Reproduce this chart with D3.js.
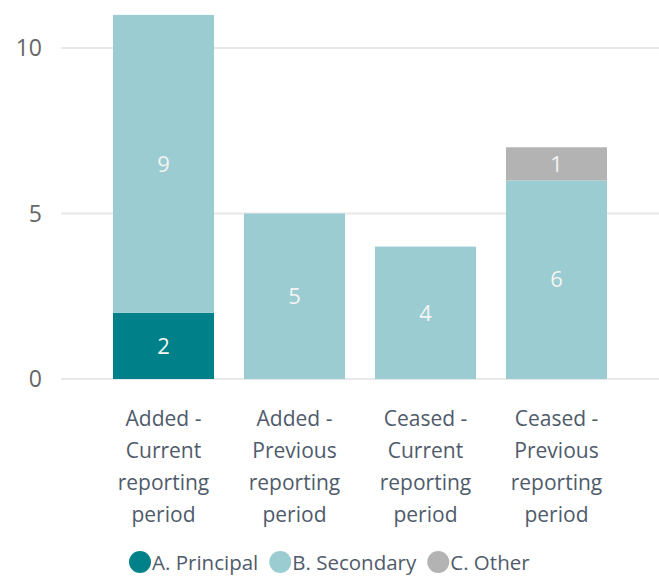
<!doctype html>
<html>
<head>
<title>Added and ceased by type</title>
<style type="text/css">
body { margin: 0; background: #fff; }
svg { display: block; font-family: "Open Sans", "Noto Sans", sans-serif; }
</style>
<script src="https://cdnjs.cloudflare.com/ajax/libs/d3/7.8.5/d3.min.js"></script>
</head>
<body>
<script type="text/javascript">
var width = 659;
var height = 576;

// data
var categories = ["Added - Current reporting period", "Added - Previous reporting period",
                  "Ceased - Current reporting period", "Ceased - Previous reporting period"];
var seriesNames = ["A. Principal", "B. Secondary", "C. Other"];
var principal = [2, 0, 0, 0];
var secondary = [9, 5, 4, 6];
var other = [0, 0, 0, 1];
var yTicks = [0, 5, 10];
var colors = ["#00818a", "#9bccd1", "#b3b3b3"];

var svg = d3.select("body").append("svg")
    .attr("width", width)
    .attr("height", height);

var x = d3.scaleBand()
    .domain(categories)
    .range([61, 659])
    .paddingInner(0.229)
    .paddingOuter(0.397);

var y = d3.scaleLinear()
    .domain([0, 11])
    .range([379, 379 - 33.1 * 11]);

// table for the stack layout
var rows = categories.map(function(c, i) {
    return { cat: c, "A. Principal": principal[i], "B. Secondary": secondary[i], "C. Other": other[i] };
});
var stacked = d3.stack().keys(seriesNames)(rows);

// gridlines
svg.append("g")
    .selectAll("line")
    .data(yTicks)
    .join("line")
    .attr("x1", 61)
    .attr("x2", width)
    .attr("y1", function(d) { return y(d); })
    .attr("y2", function(d) { return y(d); })
    .style("stroke", "#e8e8e8")
    .style("stroke-width", 2);

// y tick labels
svg.append("g")
    .selectAll("text")
    .data(yTicks)
    .join("text")
    .attr("x", 42)
    .attr("y", function(d) { return y(d); })
    .attr("dy", "0.35em")
    .attr("text-anchor", "end")
    .style("font-size", "23px")
    .style("fill", "#666666")
    .text(function(d) { return d; });

// bars
var layers = svg.append("g")
    .selectAll("g")
    .data(stacked)
    .join("g")
    .style("fill", function(d, i) { return colors[i]; });

layers.selectAll("rect")
    .data(function(d) { return d.filter(function(s) { return s[1] > s[0]; }); })
    .join("rect")
    .attr("x", function(d) { return x(d.data.cat); })
    .attr("width", x.bandwidth())
    .attr("y", function(d) { return y(d[1]); })
    .attr("height", function(d) { return y(d[0]) - y(d[1]); });

layers.selectAll("text")
    .data(function(d) { return d.filter(function(s) { return s[1] > s[0]; }); })
    .join("text")
    .attr("x", function(d) { return x(d.data.cat) + x.bandwidth() / 2; })
    .attr("y", function(d) { return (y(d[0]) + y(d[1])) / 2; })
    .attr("dy", "0.35em")
    .attr("text-anchor", "middle")
    .style("font-size", "22px")
    .style("fill", "#f4f4f4")
    .text(function(d) { return d[1] - d[0]; });

// category labels, wrapped to the band width
var xLabels = svg.append("g")
    .selectAll("text")
    .data(categories)
    .join("text")
    .attr("x", function(d) { return x(d) + x.bandwidth() / 2; })
    .attr("y", 426)
    .attr("text-anchor", "middle")
    .style("font-size", "21px")
    .style("fill", "#4f5b6b");

xLabels.each(function(d) {
    var t = d3.select(this);
    var words = d.split(" ");
    var lines = [];
    var cur = [];
    var probe = t.append("tspan");
    words.forEach(function(w) {
        probe.text(cur.concat([w]).join(" "));
        if (cur.length && probe.node().getComputedTextLength() > x.bandwidth()) {
            lines.push(cur.join(" "));
            cur = [w];
        } else {
            cur.push(w);
        }
    });
    lines.push(cur.join(" "));
    probe.remove();
    lines.forEach(function(l, i) {
        t.append("tspan")
            .attr("x", x(d) + x.bandwidth() / 2)
            .attr("dy", i === 0 ? 0 : 32)
            .text(l);
    });
});

// legend
var legend = svg.append("g").attr("transform", "translate(0,562)");
var lx = 129;
seriesNames.forEach(function(name, i) {
    legend.append("circle")
        .attr("cx", lx + 11)
        .attr("cy", 0)
        .attr("r", 11)
        .style("fill", colors[i]);
    var lt = legend.append("text")
        .attr("x", lx + 23)
        .attr("y", 8)
        .style("font-size", "20.5px")
        .style("fill", "#4f5b6b")
        .text(name);
    lx += 23 + lt.node().getComputedTextLength() + 11;
});
</script>
</body>
</html>
